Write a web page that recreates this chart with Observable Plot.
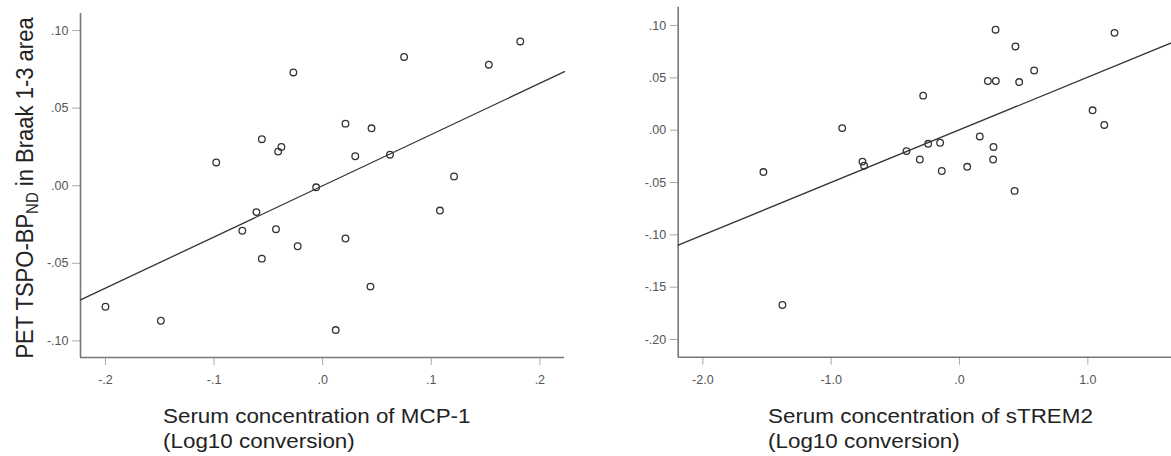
<!DOCTYPE html>
<html>
<head>
<meta charset="utf-8">
<script src="https://cdn.jsdelivr.net/npm/d3@7"></script>
<script src="https://cdn.jsdelivr.net/npm/@observablehq/plot@0.6"></script>
<style>
  html, body { margin: 0; padding: 0; background: #fff; }
  #wrap { position: relative; width: 1171px; height: 456px; overflow: hidden; font-family: "Liberation Sans", Arial, sans-serif; }
  .panel { position: absolute; top: 0; }
  .panel svg { overflow: visible; }
  .xlab { position: absolute; font-size: 20px; line-height: 25px; color: #222; white-space: nowrap; transform: scaleX(1.12); transform-origin: left top; }
  .ylab { position: absolute; font-size: 22px; line-height: 22px; color: #222; white-space: nowrap; transform: translate(-50%, -50%) scaleX(1.1) rotate(-90deg); }
  .ylab sub { font-size: 15px; vertical-align: -5px; line-height: 0; }
</style>
</head>
<body>
<div id="wrap">
  <div class="panel" id="left" style="left:0px"></div>
  <div class="panel" id="right" style="left:600px"></div>
  <div class="ylab" style="left:25px; top:188px">PET TSPO-BP<sub>ND</sub> in Braak 1-3 area</div>
  <div class="xlab" style="left:163px; top:404px">Serum concentration of MCP-1<br>(Log10 conversion)</div>
  <div class="xlab" style="left:768px; top:404px">Serum concentration of sTREM2<br>(Log10 conversion)</div>
</div>
<script>
// ---- Left panel: MCP-1 ----
const mcpX = [-0.200, -0.149, -0.098, -0.074, -0.061, -0.056, -0.056, -0.043, -0.041, -0.038,
              -0.027, -0.023, -0.006, 0.012, 0.021, 0.021, 0.030, 0.044, 0.045, 0.062,
              0.075, 0.108, 0.121, 0.153, 0.182];
const mcpY = [-0.078, -0.087, 0.015, -0.029, -0.017, 0.030, -0.047, -0.028, 0.022, 0.025,
              0.073, -0.039, -0.001, -0.093, -0.034, 0.040, 0.019, -0.065, 0.037, 0.020,
              0.083, -0.016, 0.006, 0.078, 0.093];
const mcpFit = {slope: 0.33, intercept: 0.0};
const mcpXDomain = [-0.223, 0.2227];
const mcpYDomain = [-0.1107, 0.111];
const mcpXTicks = [-0.2, -0.1, 0, 0.1, 0.2];
const mcpXTickLabels = ["-.2", "-.1", ".0", ".1", ".2"];
const mcpYTicks = [-0.10, -0.05, 0, 0.05, 0.10];
const mcpYTickLabels = ["-.10", "-.05", ".00", ".05", ".10"];

// ---- Right panel: sTREM2 ----
const stremX = [-1.528, -1.380, -0.914, -0.756, -0.743, -0.413, -0.309, -0.283, -0.244, -0.151,
                -0.138, 0.060, 0.158, 0.221, 0.262, 0.265, 0.281, 0.283, 0.429, 0.436,
                0.465, 0.582, 1.037, 1.128, 1.208];
const stremY = [-0.040, -0.167, 0.002, -0.030, -0.034, -0.020, -0.028, 0.033, -0.013, -0.012,
                -0.039, -0.035, -0.006, 0.047, -0.028, -0.016, 0.096, 0.047, -0.058, 0.080,
                0.046, 0.057, 0.019, 0.005, 0.093];
const stremFit = {slope: 0.0503, intercept: 0.0004};
const stremXDomain = [-2.192, 1.652];
const stremYDomain = [-0.2169, 0.1175];
const stremXTicks = [-2, -1, 0, 1];
const stremXTickLabels = ["-2.0", "-1.0", ".0", "1.0"];
const stremYTicks = [-0.20, -0.15, -0.10, -0.05, 0, 0.05, 0.10];
const stremYTickLabels = ["-.20", "-.15", "-.10", "-.05", ".00", ".05", ".10"];

function panel(o) {
  const data = o.xs.map((x, i) => ({x, y: o.ys[i]}));
  const fitData = o.xDomain.map(x => ({x, y: o.fit.slope * x + o.fit.intercept}));
  return Plot.plot({
    width: o.width, height: o.height,
    marginLeft: o.ml, marginRight: o.mr, marginTop: o.mt, marginBottom: o.mb,
    style: {fontFamily: "'Liberation Sans', Arial, sans-serif", fontSize: "12.5px", color: "#555", background: "transparent", overflow: "visible"},
    x: {domain: o.xDomain},
    y: {domain: o.yDomain},
    marks: [
      Plot.axisY({ticks: o.yTicks, tickFormat: d => o.yLabels[o.yTicks.indexOf(d)], tickSize: 8, tickPadding: 4, stroke: "#aaa", label: null}),
      Plot.axisX({ticks: o.xTicks, tickFormat: d => o.xLabels[o.xTicks.indexOf(d)], tickSize: 8, tickPadding: 10, stroke: "#aaa", label: null}),
      Plot.ruleX([o.xDomain[0]], {stroke: "#777", strokeWidth: 1.6}),
      Plot.ruleY([o.yDomain[0]], {stroke: "#777", strokeWidth: 1.6}),
      Plot.line(fitData, {x: "x", y: "y", stroke: "#333", strokeWidth: 1.3}),
      Plot.dot(data, {x: "x", y: "y", r: 3.3, stroke: "#333", strokeWidth: 1.3, fill: "none"})
    ]
  });
}

document.getElementById("left").appendChild(panel({
  xs: mcpX, ys: mcpY, fit: mcpFit, xDomain: mcpXDomain, yDomain: mcpYDomain,
  xTicks: mcpXTicks, xLabels: mcpXTickLabels, yTicks: mcpYTicks, yLabels: mcpYTickLabels,
  width: 580, height: 400, ml: 80, mr: 16, mt: 13, mb: 43
}));
document.getElementById("right").appendChild(panel({
  xs: stremX, ys: stremY, fit: stremFit, xDomain: stremXDomain, yDomain: stremYDomain,
  xTicks: stremXTicks, xLabels: stremXTickLabels, yTicks: stremYTicks, yLabels: stremYTickLabels,
  width: 571, height: 400, ml: 77.7, mr: 0, mt: 6.7, mb: 43.3
}));
</script>
</body>
</html>
